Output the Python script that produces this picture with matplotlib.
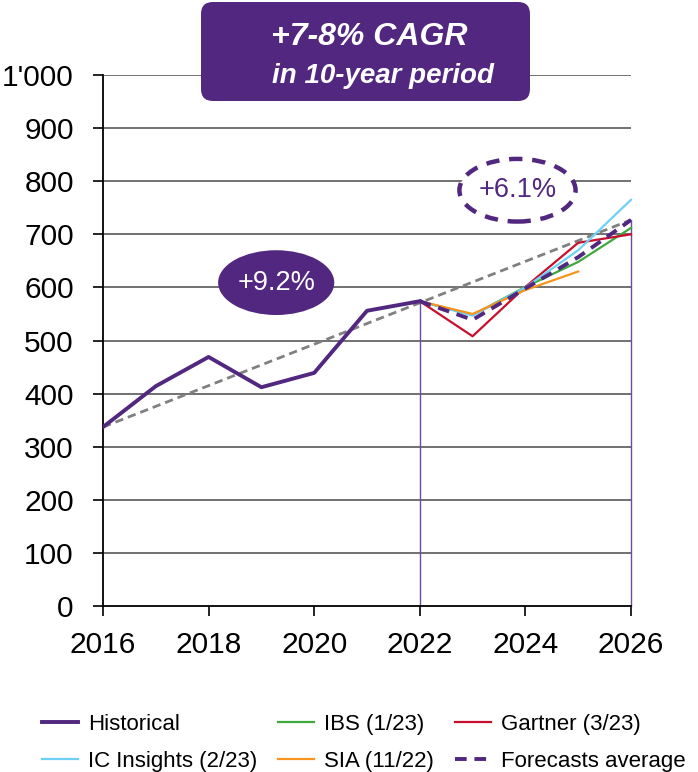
import matplotlib
matplotlib.use("Agg")
import matplotlib.pyplot as plt
from matplotlib.patches import Ellipse, FancyBboxPatch
from matplotlib.transforms import IdentityTransform

plt.rcParams['font.family'] = ['Liberation Sans', 'DejaVu Sans']

# ---- data ----
hist_years = [2016, 2017, 2018, 2019, 2020, 2021, 2022]
hist_vals = [337, 414, 469, 412, 439, 556, 574]

fc_years = [2022, 2023, 2024, 2025, 2026]
ibs_vals = [574, 548, 601, 648, 712]
gartner_vals = [574, 508, 601, 684, 700]
icins_vals = [574, 547, 600, 670, 765]
sia_years = [2022, 2023, 2024, 2025]
sia_vals = [574, 550, 595, 630]
avg_vals = [574, 539, 598, 657, 727]

trend_years = [2016, 2026]
trend_vals = [337, 727]

drop_years = [2022, 2026]
drop_vals = [574, 727]

x_ticks = [2016, 2018, 2020, 2022, 2024, 2026]
y_ticks = [0, 100, 200, 300, 400, 500, 600, 700, 800, 900, 1000]
y_labels = ['0', '100', '200', '300', '400', '500', '600', '700', '800', '900', "1'000"]

hist_cagr = '+9.2%'
fc_cagr = '+6.1%'
title_line1 = '+7-8% CAGR'
title_line2 = 'in 10-year period'

PURPLE = '#51277f'
GREEN = '#3ea83e'
RED = '#c8102e'
CYAN = '#6fd0f6'
ORANGE = '#f7941d'
GRAY = '#808080'

fig = plt.figure(figsize=(6.98, 7.72), dpi=100)
ax = fig.add_axes([103/698, 1-606/772, (631-103)/698, (606-75)/772])

ax.set_xlim(2016, 2026)
ax.set_ylim(0, 1000)

for y in y_ticks[1:]:
    ax.axhline(y, color='#595959', lw=1.2, zorder=1)

for xv, yv in zip(drop_years, drop_vals):
    ax.plot([xv, xv], [0, yv], color='#6a4ca0', lw=1.0, zorder=2, clip_on=False)

ax.plot(trend_years, trend_vals, color=GRAY, lw=2.0, ls=(0, (3, 1.8)), zorder=3)

l_hist, = ax.plot(hist_years, hist_vals, color=PURPLE, lw=2.8, zorder=5, label='Historical')
l_ibs, = ax.plot(fc_years, ibs_vals, color=GREEN, lw=1.6, zorder=4, label='IBS (1/23)', clip_on=False)
l_gar, = ax.plot(fc_years, gartner_vals, color=RED, lw=1.6, zorder=4, label='Gartner (3/23)', clip_on=False)
l_ic, = ax.plot(fc_years, icins_vals, color=CYAN, lw=1.6, zorder=4, label='IC Insights (2/23)', clip_on=False)
l_sia, = ax.plot(sia_years, sia_vals, color=ORANGE, lw=1.6, zorder=4, label='SIA (11/22)')
l_avg, = ax.plot(fc_years, avg_vals, color=PURPLE, lw=2.8, ls=(0, (3, 2)), zorder=4,
                 label='Forecasts average')

# ellipses
e1 = Ellipse((2019.28, 609), 2.2, 122, facecolor=PURPLE, edgecolor='none', zorder=6)
ax.add_patch(e1)
ax.text(2019.28, 609, hist_cagr, color='white', fontsize=19.5, ha='center', va='center', zorder=7)
e2 = Ellipse((2023.85, 783), 2.2, 118, facecolor='white', edgecolor=PURPLE, lw=3.2,
             ls=(0, (3, 2.2)), zorder=6)
ax.add_patch(e2)
ax.text(2023.85, 783, fc_cagr, color=PURPLE, fontsize=19.5, ha='center', va='center', zorder=7)

for s in ['top', 'right']:
    ax.spines[s].set_visible(False)
for s in ['left', 'bottom']:
    ax.spines[s].set_color('black')
    ax.spines[s].set_linewidth(1.3)

ax.set_xticks(x_ticks)
ax.set_xticklabels([str(x) for x in x_ticks])
ax.set_yticks(y_ticks)
ax.set_yticklabels(y_labels)
ax.tick_params(axis='both', direction='out', length=7, width=1.2, labelsize=21.5, colors='black')
ax.tick_params(axis='x', pad=11)
ax.tick_params(axis='y', pad=14)

# title box
box = FancyBboxPatch((201, 772-101), 329, 99, boxstyle='round,pad=0,rounding_size=12',
                     facecolor=PURPLE, edgecolor='none', transform=IdentityTransform(), zorder=10)
fig.add_artist(box)
fig.text(369/698, 1-45/772, title_line1, color='white', fontsize=23, fontweight='bold',
         fontstyle='italic', ha='center', va='baseline', zorder=11)
fig.text(383/698, 1-83/772, title_line2, color='white', fontsize=20, fontweight='bold',
         fontstyle='italic', ha='center', va='baseline', zorder=11)

handles = [l_hist, l_ic, l_ibs, l_sia, l_gar, l_avg]
fig.legend(handles=handles, labels=[h.get_label() for h in handles], ncol=3,
           loc='upper left', bbox_to_anchor=(42/698, 1-714/772), frameon=False,
           prop={'size': 16},
           handlelength=1.62, handletextpad=0.45, columnspacing=0.95, labelspacing=0.7,
           borderaxespad=0, borderpad=0)

fig.savefig('out.png', dpi=100)
